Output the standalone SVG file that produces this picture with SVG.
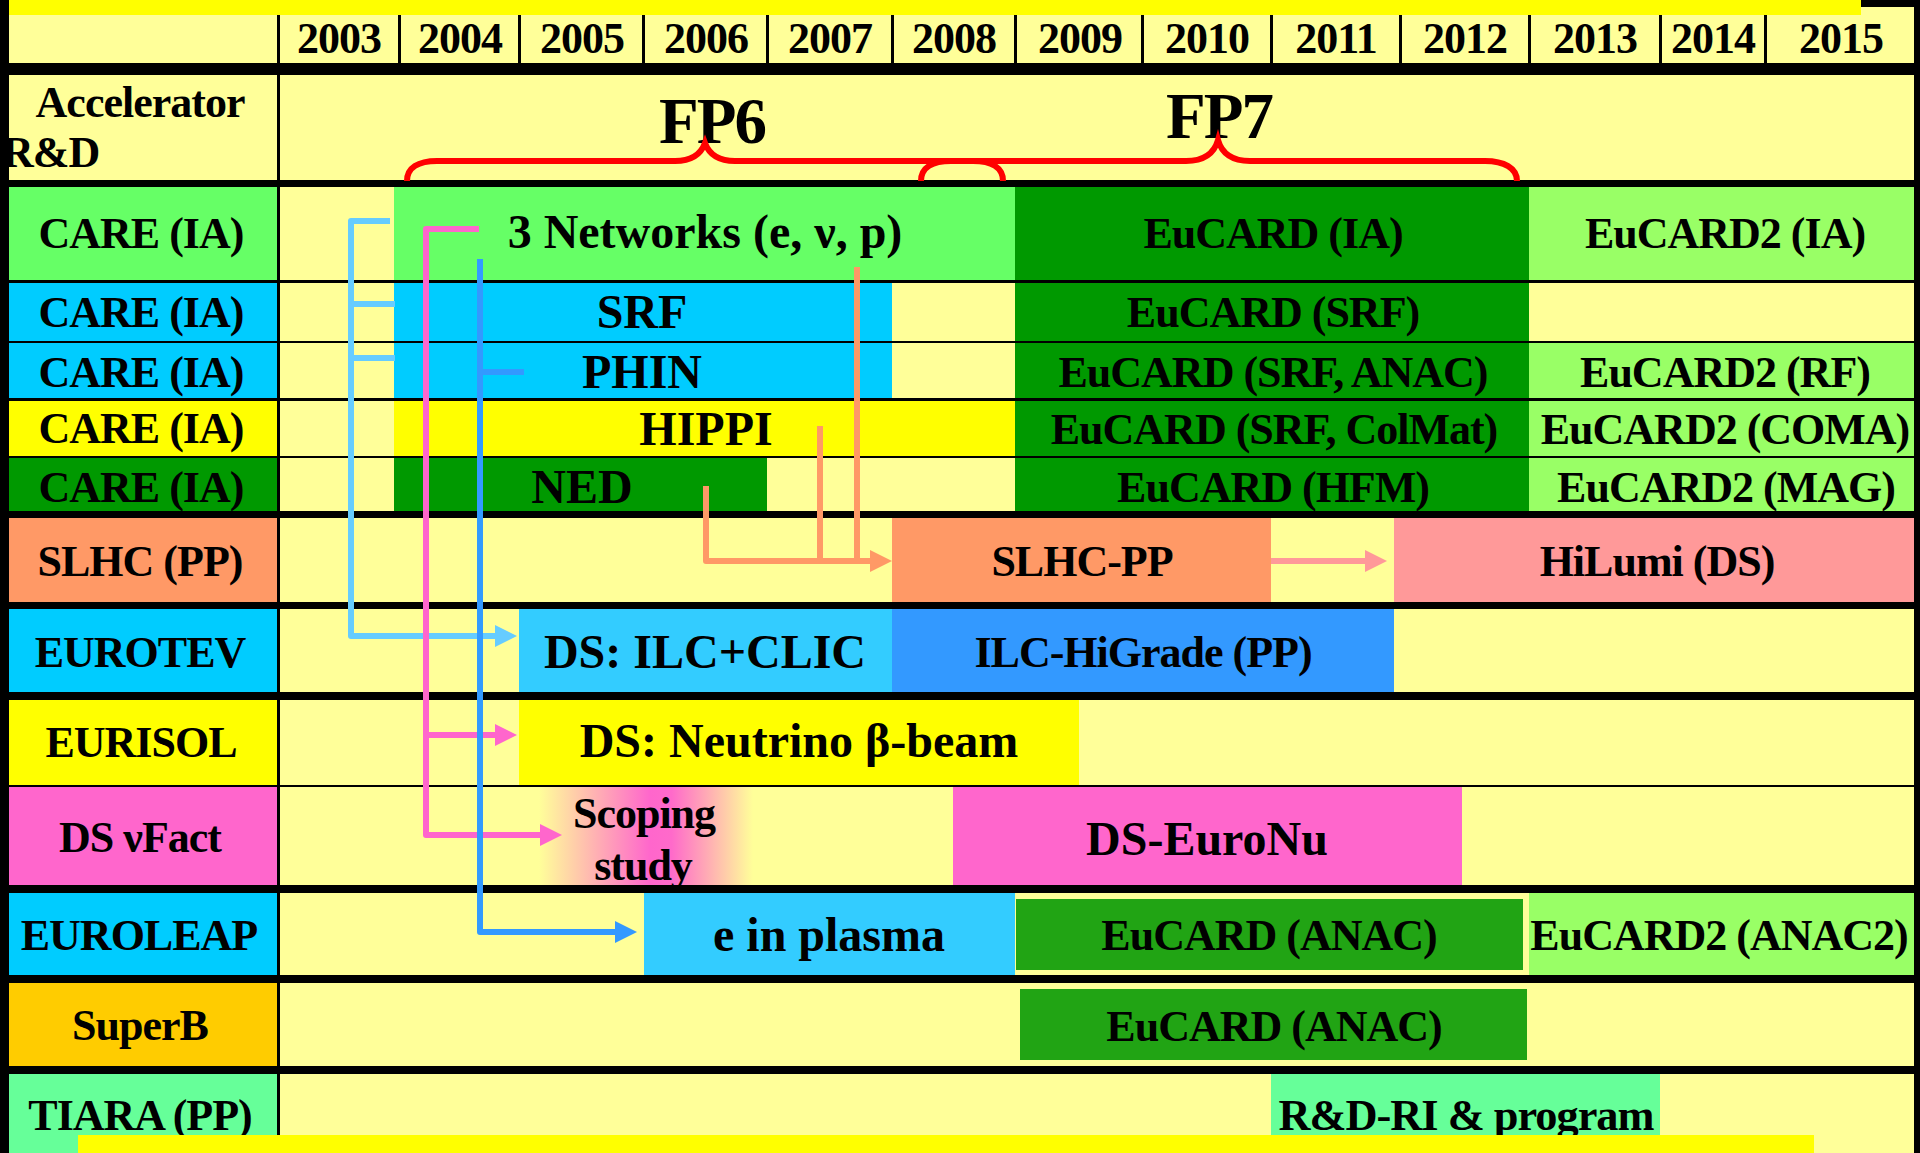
<svg xmlns="http://www.w3.org/2000/svg" width="1920" height="1153" viewBox="0 0 1920 1153">
<style>
.t{font-family:"Liberation Serif","Times New Roman",serif;font-weight:bold;font-size:44px;letter-spacing:-1px;text-anchor:middle;fill:#000}
.tb{font-size:48px;letter-spacing:0}
.fp{font-size:65px;letter-spacing:-2px}
.ly{fill:#FFFF99}
.yl{fill:#FFFF00}
.gl{fill:#66FF66}
.dg{fill:#009900}
.g2{fill:#99FF66}
.cy{fill:#00CCFF}
.lc{fill:#33CCFF}
.bl{fill:#3399FF}
.or{fill:#FF9966}
.pk{fill:#FF9999}
.mg{fill:#FF66CC}
.an{fill:#21A414}
.c{fill:none;stroke-width:6;stroke-linejoin:round}
.br{fill:none;stroke:#FF0000;stroke-width:6}
</style>
<defs>
<marker id="aLB" markerUnits="userSpaceOnUse" markerWidth="24" markerHeight="24" refX="1" refY="11" orient="auto"><path d="M0,0 L22,11 L0,22 Z" fill="#66CCFF"/></marker>
<marker id="aPK" markerUnits="userSpaceOnUse" markerWidth="24" markerHeight="24" refX="1" refY="11" orient="auto"><path d="M0,0 L22,11 L0,22 Z" fill="#FF66CC"/></marker>
<marker id="aBL" markerUnits="userSpaceOnUse" markerWidth="24" markerHeight="24" refX="1" refY="11" orient="auto"><path d="M0,0 L22,11 L0,22 Z" fill="#3399FF"/></marker>
<marker id="aOR" markerUnits="userSpaceOnUse" markerWidth="24" markerHeight="24" refX="1" refY="11" orient="auto"><path d="M0,0 L22,11 L0,22 Z" fill="#FF9966"/></marker>
<marker id="aPL" markerUnits="userSpaceOnUse" markerWidth="24" markerHeight="24" refX="1" refY="11" orient="auto"><path d="M0,0 L22,11 L0,22 Z" fill="#FF9999"/></marker>
<linearGradient id="scope" x1="0" y1="0" x2="1" y2="0">
<stop offset="0" stop-color="#FFFF99"/>
<stop offset="0.52" stop-color="#FF66CC"/>
<stop offset="0.62" stop-color="#FF6ACA"/>
<stop offset="1" stop-color="#FFFF99"/>
</linearGradient>
</defs>

<rect x="0" y="0" width="1920" height="1153" fill="#000"/>

<g id="header">
<rect class="ly" x="9" y="7" width="1905" height="56"/>
<g fill="#000">
<rect x="277" y="7" width="3" height="56"/><rect x="398" y="7" width="3" height="56"/><rect x="518" y="7" width="3" height="56"/>
<rect x="642" y="7" width="3" height="56"/><rect x="766" y="7" width="3" height="56"/><rect x="891" y="7" width="3" height="56"/>
<rect x="1014" y="7" width="3" height="56"/><rect x="1141" y="7" width="3" height="56"/><rect x="1270" y="7" width="3" height="56"/>
<rect x="1399" y="7" width="3" height="56"/><rect x="1528" y="7" width="3" height="56"/><rect x="1659" y="7" width="3" height="56"/>
<rect x="1764" y="7" width="3" height="56"/>
</g>
<text class="t" x="339" y="53">2003</text>
<text class="t" x="460" y="53">2004</text>
<text class="t" x="582" y="53">2005</text>
<text class="t" x="706" y="53">2006</text>
<text class="t" x="830" y="53">2007</text>
<text class="t" x="954" y="53">2008</text>
<text class="t" x="1080" y="53">2009</text>
<text class="t" x="1207" y="53">2010</text>
<text class="t" x="1336" y="53">2011</text>
<text class="t" x="1465" y="53">2012</text>
<text class="t" x="1595" y="53">2013</text>
<text class="t" x="1713" y="53">2014</text>
<text class="t" x="1841" y="53">2015</text>
</g>

<g id="row-accelerator">
<rect class="ly" x="9" y="75" width="268" height="105"/>
<rect class="ly" x="280" y="75" width="1634" height="105"/>
<text class="t" x="140" y="117">Accelerator</text>
<text class="t" x="2" y="167" style="text-anchor:start">R&amp;D</text>
<text class="t fp" x="712" y="143">FP6</text>
<text class="t fp" x="1219" y="138">FP7</text>
</g>

<g id="row-care-networks">
<rect class="gl" x="9" y="187" width="268" height="93"/>
<rect class="ly" x="280" y="187" width="1634" height="93"/>
<text class="t" x="141" y="248">CARE (IA)</text>
</g>
<g id="node-3networks"><rect class="gl" x="394" y="187" width="621" height="93"/><text class="t tb" x="705" y="248">3 Networks (e, ν, p)</text></g>
<g id="node-eucard-ia"><rect class="dg" x="1015" y="187" width="514" height="93"/><text class="t" x="1273" y="248">EuCARD (IA)</text></g>
<g id="node-eucard2-ia"><rect class="g2" x="1529" y="187" width="385" height="93"/><text class="t" x="1725" y="248">EuCARD2 (IA)</text></g>

<g id="row-care-srf">
<rect class="cy" x="9" y="283" width="268" height="58"/>
<rect class="ly" x="280" y="283" width="1634" height="58"/>
<text class="t" x="141" y="327">CARE (IA)</text>
</g>
<g id="node-srf"><rect class="cy" x="394" y="283" width="498" height="58"/><text class="t tb" x="642" y="328">SRF</text></g>
<g id="node-eucard-srf"><rect class="dg" x="1015" y="283" width="514" height="58"/><text class="t" x="1273" y="327">EuCARD (SRF)</text></g>

<g id="row-care-phin">
<rect class="cy" x="9" y="343" width="268" height="55"/>
<rect class="ly" x="280" y="343" width="1634" height="55"/>
<text class="t" x="141" y="387">CARE (IA)</text>
</g>
<g id="node-phin"><rect class="cy" x="394" y="343" width="498" height="55"/><text class="t tb" x="642" y="388">PHIN</text></g>
<g id="node-eucard-srf-anac"><rect class="dg" x="1015" y="343" width="514" height="55"/><text class="t" x="1273" y="387">EuCARD (SRF, ANAC)</text></g>
<g id="node-eucard2-rf"><rect class="g2" x="1529" y="343" width="385" height="55"/><text class="t" x="1725" y="387">EuCARD2 (RF)</text></g>

<g id="row-care-hippi">
<rect class="yl" x="9" y="401" width="268" height="55"/>
<rect class="ly" x="280" y="401" width="1634" height="55"/>
<text class="t" x="141" y="443">CARE (IA)</text>
</g>
<g id="node-hippi"><rect class="yl" x="394" y="401" width="621" height="55"/><text class="t tb" x="706" y="445">HIPPI</text></g>
<g id="node-eucard-colmat"><rect class="dg" x="1015" y="401" width="514" height="55"/><text class="t" x="1274" y="444">EuCARD (SRF, ColMat)</text></g>
<g id="node-eucard2-coma"><rect class="g2" x="1529" y="401" width="385" height="55"/><text class="t" x="1725" y="444">EuCARD2 (COMA)</text></g>

<g id="row-care-ned">
<rect class="dg" x="9" y="458" width="268" height="53"/>
<rect class="ly" x="280" y="458" width="1634" height="53"/>
<text class="t" x="141" y="502">CARE (IA)</text>
</g>
<g id="node-ned"><rect class="dg" x="394" y="458" width="373" height="53"/><text class="t tb" x="582" y="503">NED</text></g>
<g id="node-eucard-hfm"><rect class="dg" x="1015" y="458" width="514" height="53"/><text class="t" x="1273" y="502">EuCARD (HFM)</text></g>
<g id="node-eucard2-mag"><rect class="g2" x="1529" y="458" width="385" height="53"/><text class="t" x="1726" y="502">EuCARD2 (MAG)</text></g>

<g id="row-slhc">
<rect class="or" x="9" y="518" width="268" height="84"/>
<rect class="ly" x="280" y="518" width="1634" height="84"/>
<text class="t" x="140" y="576">SLHC (PP)</text>
</g>
<g id="node-slhc-pp"><rect class="or" x="892" y="518" width="379" height="84"/><text class="t" x="1082" y="576">SLHC-PP</text></g>
<g id="node-hilumi"><rect class="pk" x="1394" y="518" width="520" height="84"/><text class="t" x="1657" y="576">HiLumi (DS)</text></g>

<g id="row-eurotev">
<rect class="cy" x="9" y="609" width="268" height="83"/>
<rect class="ly" x="280" y="609" width="1634" height="83"/>
<text class="t" x="140" y="667">EUROTEV</text>
</g>
<g id="node-ilc-clic"><rect class="lc" x="519" y="609" width="373" height="83"/><text class="t tb" x="705" y="668">DS: ILC+CLIC</text></g>
<g id="node-ilc-higrade"><rect class="bl" x="892" y="609" width="502" height="83"/><text class="t" x="1143" y="667">ILC-HiGrade (PP)</text></g>

<g id="row-eurisol">
<rect class="yl" x="9" y="700" width="268" height="85"/>
<rect class="ly" x="280" y="700" width="1634" height="85"/>
<text class="t" x="141" y="757">EURISOL</text>
</g>
<g id="node-beta-beam"><rect class="yl" x="519" y="700" width="560" height="85"/><text class="t tb" x="799" y="757">DS: Neutrino β-beam</text></g>

<g id="row-dsvfact">
<rect class="mg" x="9" y="787" width="268" height="98"/>
<rect class="ly" x="280" y="787" width="1634" height="98"/>
<text class="t" x="140" y="852">DS νFact</text>
</g>
<g id="node-scoping"><rect x="539" y="787" width="214" height="98" fill="url(#scope)"/><text class="t" x="644" y="828">Scoping</text><text class="t" x="643" y="880">study</text></g>
<g id="node-euronu"><rect class="mg" x="953" y="787" width="509" height="98"/><text class="t tb" x="1207" y="855">DS-EuroNu</text></g>

<g id="row-euroleap">
<rect class="cy" x="9" y="893" width="268" height="82"/>
<rect class="ly" x="280" y="893" width="1634" height="82"/>
<text class="t" x="139" y="950">EUROLEAP</text>
</g>
<g id="node-plasma"><rect class="lc" x="644" y="893" width="371" height="82"/><text class="t tb" x="829" y="951">e in plasma</text></g>
<g id="node-eucard-anac-1"><rect class="an" x="1016" y="899" width="507" height="71"/><text class="t" x="1269" y="950">EuCARD (ANAC)</text></g>
<g id="node-eucard2-anac2"><rect class="g2" x="1529" y="893" width="385" height="82"/><text class="t" x="1719" y="950">EuCARD2 (ANAC2)</text></g>

<g id="row-superb">
<rect fill="#FFCC00" x="9" y="983" width="268" height="83"/>
<rect class="ly" x="280" y="983" width="1634" height="83"/>
<text class="t" x="140" y="1040">SuperB</text>
</g>
<g id="node-eucard-anac-2"><rect class="an" x="1020" y="989" width="507" height="71"/><text class="t" x="1274" y="1041">EuCARD (ANAC)</text></g>

<g id="row-tiara">
<rect fill="#66FF99" x="9" y="1074" width="268" height="79"/>
<rect class="ly" x="280" y="1074" width="1634" height="79"/>
<text class="t" x="140" y="1130">TIARA (PP)</text>
</g>
<g id="node-rd-ri"><rect fill="#66FF99" x="1271" y="1074" width="389" height="79"/><text class="t" x="1466" y="1130" textLength="375" lengthAdjust="spacingAndGlyphs">R&amp;D-RI &amp; program</text></g>

<g id="connectors">
<path class="br" d="M407,181 C407,168 418,161 437,161 H675 C692,161 701,154 705,143 C709,154 718,161 735,161 H973 C992,161 1003,168 1003,181"/>
<path class="br" d="M921,181 C921,168 932,161 951,161 H1186 C1203,161 1214,154 1218,140 C1222,154 1233,161 1250,161 H1485 C1504,161 1517,168 1517,181"/>
<g stroke="#66CCFF" class="c">
<path d="M390,221 H351 V636 H496" marker-end="url(#aLB)"/>
<path d="M351,304 H395"/>
<path d="M351,358 H395"/>
</g>
<g stroke="#FF66CC" class="c">
<path d="M479,229 H426 V835 H541" marker-end="url(#aPK)"/>
<path d="M426,735 H496" marker-end="url(#aPK)"/>
</g>
<g stroke="#3399FF" class="c">
<path d="M480,259 V932 H616" marker-end="url(#aBL)"/>
<path d="M480,372 H524"/>
</g>
<g stroke="#FF9966" class="c">
<path d="M857,267 V561"/>
<path d="M820,426 V561"/>
<path d="M706,486 V561 H871" marker-end="url(#aOR)"/>
</g>
<path class="c" stroke="#FF9999" d="M1271,561 H1366" marker-end="url(#aPL)"/>
</g>

<g id="overlay">
<rect x="9" y="0" width="1852" height="15" fill="#FFFF00"/>
<rect x="78" y="1135" width="1736" height="18" fill="#FFFF00"/>
<rect x="0" y="0" width="9" height="1153" fill="#000"/>
</g>
</svg>
